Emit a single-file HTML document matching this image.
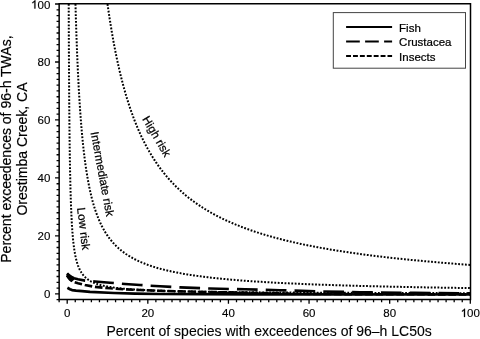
<!DOCTYPE html>
<html><head><meta charset="utf-8"><style>
html,body{margin:0;padding:0;background:#fff;width:480px;height:339px;overflow:hidden}
svg{display:block;will-change:transform}
.t{font-family:"Liberation Sans",sans-serif;fill:#000;stroke:#000;stroke-width:0.22px}
.t.rl{stroke-width:0.25px}
.t.yl{stroke-width:0.2px}
.t.tl{stroke-width:0.15px}
.t.xl{stroke-width:0.12px}
</style></head><body>
<svg width="480" height="339" viewBox="0 0 480 339">
<path d="M59.15,3.85 H470.5 V299.4 H59.15 Z" fill="none" stroke="#000" stroke-width="1.5" stroke-linejoin="miter"/>
<path d="M56.55,299.70H59.15M55.05,293.90H59.15M56.55,288.10H59.15M56.55,282.30H59.15M56.55,276.51H59.15M56.55,270.71H59.15M56.55,264.91H59.15M56.55,259.11H59.15M56.55,253.31H59.15M56.55,247.52H59.15M56.55,241.72H59.15M55.05,235.92H59.15M56.55,230.12H59.15M56.55,224.32H59.15M56.55,218.53H59.15M56.55,212.73H59.15M56.55,206.93H59.15M56.55,201.13H59.15M56.55,195.33H59.15M56.55,189.54H59.15M56.55,183.74H59.15M55.05,177.94H59.15M56.55,172.14H59.15M56.55,166.34H59.15M56.55,160.55H59.15M56.55,154.75H59.15M56.55,148.95H59.15M56.55,143.15H59.15M56.55,137.35H59.15M56.55,131.56H59.15M56.55,125.76H59.15M55.05,119.96H59.15M56.55,114.16H59.15M56.55,108.36H59.15M56.55,102.57H59.15M56.55,96.77H59.15M56.55,90.97H59.15M56.55,85.17H59.15M56.55,79.37H59.15M56.55,73.58H59.15M56.55,67.78H59.15M55.05,61.98H59.15M56.55,56.18H59.15M56.55,50.38H59.15M56.55,44.59H59.15M56.55,38.79H59.15M56.55,32.99H59.15M56.55,27.19H59.15M56.55,21.39H59.15M56.55,15.60H59.15M56.55,9.80H59.15M55.05,4.00H59.15M59.14,299.4V302.30M67.20,299.4V303.70M75.26,299.4V302.30M83.32,299.4V302.30M91.39,299.4V302.30M99.45,299.4V302.30M107.51,299.4V302.30M115.57,299.4V302.30M123.63,299.4V302.30M131.70,299.4V302.30M139.76,299.4V302.30M147.82,299.4V303.70M155.88,299.4V302.30M163.94,299.4V302.30M172.01,299.4V302.30M180.07,299.4V302.30M188.13,299.4V302.30M196.19,299.4V302.30M204.25,299.4V302.30M212.32,299.4V302.30M220.38,299.4V302.30M228.44,299.4V303.70M236.50,299.4V302.30M244.56,299.4V302.30M252.63,299.4V302.30M260.69,299.4V302.30M268.75,299.4V302.30M276.81,299.4V302.30M284.87,299.4V302.30M292.94,299.4V302.30M301.00,299.4V302.30M309.06,299.4V303.70M317.12,299.4V302.30M325.18,299.4V302.30M333.25,299.4V302.30M341.31,299.4V302.30M349.37,299.4V302.30M357.43,299.4V302.30M365.49,299.4V302.30M373.56,299.4V302.30M381.62,299.4V302.30M389.68,299.4V303.70M397.74,299.4V302.30M405.80,299.4V302.30M413.87,299.4V302.30M421.93,299.4V302.30M429.99,299.4V302.30M438.05,299.4V302.30M446.11,299.4V302.30M454.18,299.4V302.30M462.24,299.4V302.30M470.30,299.4V303.70" stroke="#000" stroke-width="1.3" fill="none"/>
<text x="43.90" y="298.40" class="t tl" font-size="11.5">0</text>
<text x="37.51" y="240.42" class="t tl" font-size="11.5">20</text>
<text x="37.51" y="182.44" class="t tl" font-size="11.5">40</text>
<text x="37.51" y="124.46" class="t tl" font-size="11.5">60</text>
<text x="37.51" y="66.48" class="t tl" font-size="11.5">80</text>
<path d="M763,0H583V1147C540,1106 483,1064 413,1023C343,982 280,951 225,930V1104C326,1151 414,1208 489,1275C564,1342 617,1407 648,1466H763Z" transform="translate(31.11,8.50) scale(0.00562,-0.00562)" fill="#000" stroke="#000" stroke-width="0.3" vector-effect="non-scaling-stroke"/><text x="37.51" y="8.50" class="t tl" font-size="11.5">00</text>
<text x="64.00" y="316.90" class="t tl" font-size="11.5">0</text>
<text x="141.42" y="316.90" class="t tl" font-size="11.5">20</text>
<text x="222.04" y="316.90" class="t tl" font-size="11.5">40</text>
<text x="302.66" y="316.90" class="t tl" font-size="11.5">60</text>
<text x="383.28" y="316.90" class="t tl" font-size="11.5">80</text>
<path d="M763,0H583V1147C540,1106 483,1064 413,1023C343,982 280,951 225,930V1104C326,1151 414,1208 489,1275C564,1342 617,1407 648,1466H763Z" transform="translate(460.71,316.90) scale(0.00562,-0.00562)" fill="#000" stroke="#000" stroke-width="0.3" vector-effect="non-scaling-stroke"/><text x="467.10" y="316.90" class="t tl" font-size="11.5">00</text>
<path d="M107.51,4.00 L107.82,6.22 L108.13,8.42 L108.45,10.60 L108.77,12.77 L109.09,14.91 L109.41,17.05 L109.73,19.16 L110.06,21.27 L110.39,23.35 L110.73,25.42 L111.06,27.47 L111.40,29.51 L111.74,31.53 L112.08,33.54 L112.43,35.53 L112.78,37.50 L113.13,39.46 L113.48,41.41 L113.84,43.34 L114.20,45.25 L114.56,47.16 L114.93,49.04 L115.29,50.91 L115.66,52.77 L116.04,54.62 L116.41,56.44 L116.79,58.26 L117.17,60.06 L117.56,61.85 L117.95,63.62 L118.34,65.38 L118.73,67.13 L119.13,68.87 L119.53,70.59 L119.93,72.29 L120.34,73.99 L120.75,75.67 L121.16,77.34 L121.58,78.99 L122.00,80.64 L122.42,82.27 L122.84,83.89 L123.27,85.49 L123.70,87.09 L124.14,88.67 L124.58,90.24 L125.02,91.79 L125.47,93.34 L125.91,94.87 L126.37,96.39 L126.82,97.90 L127.28,99.40 L127.75,100.89 L128.21,102.36 L128.68,103.83 L129.16,105.28 L129.63,106.72 L130.11,108.16 L130.60,109.58 L131.09,110.99 L131.58,112.38 L132.08,113.77 L132.58,115.15 L133.08,116.52 L133.59,117.87 L134.10,119.22 L134.61,120.55 L135.13,121.88 L135.66,123.19 L136.18,124.50 L136.72,125.79 L137.25,127.08 L137.79,128.36 L138.33,129.62 L138.88,130.88 L139.43,132.12 L139.99,133.36 L140.55,134.59 L141.12,135.81 L141.69,137.01 L142.26,138.21 L142.84,139.40 L143.42,140.59 L144.01,141.76 L144.60,142.92 L145.20,144.08 L145.80,145.22 L146.40,146.36 L147.01,147.49 L147.63,148.61 L148.25,149.72 L148.87,150.82 L149.50,151.91 L150.14,153.00 L150.78,154.08 L151.42,155.15 L152.07,156.21 L152.72,157.26 L153.38,158.30 L154.05,159.34 L154.71,160.37 L155.39,161.39 L156.07,162.40 L156.75,163.41 L157.44,164.41 L158.14,165.40 L158.84,166.38 L159.54,167.35 L160.26,168.32 L160.97,169.28 L161.70,170.23 L162.42,171.18 L163.16,172.12 L163.90,173.05 L164.64,173.97 L165.39,174.89 L166.15,175.80 L166.91,176.70 L167.68,177.60 L168.45,178.49 L169.23,179.37 L170.02,180.25 L170.81,181.12 L171.61,181.98 L172.42,182.83 L173.23,183.68 L174.04,184.53 L174.87,185.36 L175.70,186.19 L176.53,187.02 L177.37,187.83 L178.22,188.64 L179.08,189.45 L179.94,190.25 L180.81,191.04 L181.68,191.83 L182.57,192.61 L183.46,193.38 L184.35,194.15 L185.25,194.91 L186.16,195.67 L187.08,196.42 L188.00,197.17 L188.93,197.91 L189.87,198.64 L190.82,199.37 L191.77,200.09 L192.73,200.81 L193.70,201.52 L194.67,202.23 L195.65,202.93 L196.64,203.62 L197.64,204.31 L198.65,205.00 L199.66,205.68 L200.68,206.35 L201.71,207.02 L202.74,207.69 L203.79,208.34 L204.84,209.00 L205.90,209.65 L206.97,210.29 L208.05,210.93 L209.13,211.57 L210.23,212.20 L211.33,212.82 L212.44,213.44 L213.56,214.05 L214.68,214.67 L215.82,215.27 L216.97,215.87 L218.12,216.47 L219.28,217.06 L220.45,217.65 L221.64,218.23 L222.83,218.81 L224.02,219.38 L225.23,219.95 L226.45,220.52 L227.68,221.08 L228.91,221.64 L230.16,222.19 L231.41,222.74 L232.68,223.28 L233.96,223.82 L235.24,224.36 L236.53,224.89 L237.84,225.42 L239.15,225.94 L240.48,226.46 L241.81,226.98 L243.16,227.49 L244.52,228.00 L245.88,228.50 L247.26,229.00 L248.65,229.50 L250.04,229.99 L251.45,230.48 L252.87,230.96 L254.30,231.44 L255.74,231.92 L257.20,232.39 L258.66,232.86 L260.14,233.33 L261.62,233.79 L263.12,234.25 L264.63,234.71 L266.15,235.16 L267.68,235.61 L269.23,236.06 L270.79,236.50 L272.35,236.94 L273.93,237.37 L275.53,237.81 L277.13,238.24 L278.75,238.66 L280.38,239.08 L282.02,239.50 L283.68,239.92 L285.35,240.33 L287.03,240.74 L288.72,241.15 L290.43,241.55 L292.15,241.95 L293.88,242.35 L295.63,242.74 L297.39,243.13 L299.16,243.52 L300.95,243.91 L302.75,244.29 L304.56,244.67 L306.39,245.04 L308.23,245.42 L310.09,245.79 L311.96,246.16 L313.85,246.52 L315.75,246.88 L317.66,247.24 L319.59,247.60 L321.54,247.95 L323.50,248.31 L325.47,248.65 L327.46,249.00 L329.47,249.34 L331.49,249.68 L333.53,250.02 L335.58,250.36 L337.65,250.69 L339.73,251.02 L341.83,251.35 L343.94,251.67 L346.08,252.00 L348.23,252.32 L350.39,252.64 L352.57,252.95 L354.77,253.26 L356.99,253.57 L359.22,253.88 L361.47,254.19 L363.74,254.49 L366.02,254.79 L368.32,255.09 L370.64,255.39 L372.98,255.68 L375.34,255.98 L377.71,256.27 L380.11,256.55 L382.52,256.84 L384.95,257.12 L387.39,257.40 L389.86,257.68 L392.35,257.96 L394.85,258.23 L397.38,258.51 L399.92,258.78 L402.48,259.05 L405.07,259.31 L407.67,259.58 L410.29,259.84 L412.94,260.10 L415.60,260.36 L418.29,260.62 L420.99,260.87 L423.72,261.12 L426.46,261.37 L429.23,261.62 L432.02,261.87 L434.83,262.11 L437.66,262.36 L440.52,262.60 L443.39,262.84 L446.29,263.07 L449.21,263.31 L452.16,263.54 L455.12,263.78 L458.11,264.01 L461.12,264.23 L464.16,264.46 L467.22,264.69 L470.30,264.91" stroke="#000" stroke-width="2.0" fill="none" stroke-dasharray="1.8 1.6"/>
<path d="M75.46,4.00 L75.57,7.76 L75.68,11.46 L75.78,15.12 L75.89,18.73 L76.01,22.30 L76.12,25.82 L76.23,29.29 L76.35,32.72 L76.47,36.10 L76.58,39.44 L76.71,42.74 L76.83,45.99 L76.95,49.20 L77.08,52.37 L77.20,55.50 L77.33,58.59 L77.46,61.64 L77.59,64.65 L77.73,67.62 L77.86,70.55 L78.00,73.44 L78.14,76.30 L78.28,79.12 L78.42,81.90 L78.57,84.65 L78.72,87.36 L78.86,90.04 L79.01,92.68 L79.17,95.28 L79.32,97.86 L79.48,100.40 L79.64,102.90 L79.80,105.38 L79.96,107.82 L80.12,110.23 L80.29,112.61 L80.46,114.96 L80.63,117.28 L80.81,119.57 L80.98,121.82 L81.16,124.05 L81.34,126.25 L81.52,128.43 L81.71,130.57 L81.90,132.69 L82.09,134.77 L82.28,136.84 L82.48,138.87 L82.67,140.88 L82.87,142.86 L83.08,144.82 L83.28,146.75 L83.49,148.66 L83.70,150.54 L83.92,152.40 L84.13,154.23 L84.35,156.04 L84.58,157.82 L84.80,159.59 L85.03,161.33 L85.26,163.04 L85.50,164.74 L85.73,166.41 L85.97,168.07 L86.22,169.70 L86.46,171.30 L86.71,172.89 L86.97,174.46 L87.22,176.01 L87.48,177.54 L87.75,179.04 L88.02,180.53 L88.29,182.00 L88.56,183.45 L88.84,184.88 L89.12,186.29 L89.40,187.69 L89.69,189.06 L89.99,190.42 L90.28,191.76 L90.58,193.08 L90.89,194.39 L91.20,195.68 L91.51,196.95 L91.82,198.21 L92.14,199.45 L92.47,200.67 L92.80,201.88 L93.13,203.07 L93.47,204.25 L93.81,205.41 L94.16,206.56 L94.51,207.69 L94.87,208.80 L95.23,209.91 L95.59,211.00 L95.96,212.07 L96.34,213.13 L96.72,214.18 L97.10,215.21 L97.49,216.23 L97.89,217.23 L98.29,218.23 L98.69,219.21 L99.10,220.18 L99.52,221.13 L99.94,222.07 L100.37,223.00 L100.80,223.92 L101.24,224.83 L101.68,225.72 L102.13,226.61 L102.59,227.48 L103.05,228.34 L103.52,229.19 L103.99,230.03 L104.47,230.86 L104.96,231.67 L105.45,232.48 L105.95,233.27 L106.46,234.06 L106.97,234.83 L107.49,235.60 L108.01,236.36 L108.55,237.10 L109.09,237.84 L109.64,238.56 L110.19,239.28 L110.75,239.99 L111.32,240.69 L111.90,241.38 L112.48,242.06 L113.07,242.73 L113.67,243.39 L114.28,244.04 L114.89,244.69 L115.52,245.33 L116.15,245.96 L116.79,246.58 L117.44,247.19 L118.09,247.80 L118.76,248.39 L119.43,248.98 L120.12,249.57 L120.81,250.14 L121.51,250.71 L122.22,251.27 L122.94,251.82 L123.67,252.36 L124.41,252.90 L125.16,253.43 L125.91,253.96 L126.68,254.47 L127.46,254.99 L128.25,255.49 L129.05,255.99 L129.86,256.48 L130.68,256.96 L131.51,257.44 L132.35,257.91 L133.20,258.38 L134.06,258.84 L134.94,259.29 L135.82,259.74 L136.72,260.19 L137.63,260.62 L138.55,261.05 L139.49,261.48 L140.43,261.90 L141.39,262.31 L142.36,262.72 L143.35,263.13 L144.35,263.53 L145.36,263.92 L146.38,264.31 L147.42,264.69 L148.47,265.07 L149.53,265.44 L150.61,265.81 L151.70,266.18 L152.81,266.53 L153.93,266.89 L155.06,267.24 L156.21,267.58 L157.38,267.93 L158.56,268.26 L159.76,268.59 L160.97,268.92 L162.20,269.25 L163.44,269.56 L164.70,269.88 L165.98,270.19 L167.27,270.50 L168.58,270.80 L169.91,271.10 L171.26,271.40 L172.62,271.69 L174.00,271.98 L175.40,272.26 L176.82,272.54 L178.25,272.82 L179.71,273.09 L181.18,273.36 L182.68,273.63 L184.19,273.89 L185.72,274.15 L187.28,274.40 L188.85,274.66 L190.44,274.91 L192.06,275.15 L193.69,275.39 L195.35,275.63 L197.03,275.87 L198.73,276.10 L200.46,276.33 L202.20,276.56 L203.97,276.79 L205.77,277.01 L207.58,277.23 L209.42,277.44 L211.29,277.66 L213.17,277.87 L215.09,278.07 L217.03,278.28 L218.99,278.48 L220.98,278.68 L223.00,278.88 L225.04,279.07 L227.11,279.27 L229.20,279.46 L231.33,279.64 L233.48,279.83 L235.66,280.01 L237.87,280.19 L240.10,280.37 L242.37,280.54 L244.67,280.72 L246.99,280.89 L249.35,281.05 L251.74,281.22 L254.16,281.39 L256.61,281.55 L259.09,281.71 L261.61,281.87 L264.16,282.02 L266.74,282.18 L269.36,282.33 L272.01,282.48 L274.69,282.63 L277.42,282.77 L280.17,282.92 L282.96,283.06 L285.79,283.20 L288.66,283.34 L291.56,283.47 L294.51,283.61 L297.49,283.74 L300.51,283.87 L303.57,284.00 L306.67,284.13 L309.81,284.26 L312.99,284.38 L316.21,284.51 L319.48,284.63 L322.79,284.75 L326.14,284.87 L329.54,284.98 L332.98,285.10 L336.46,285.21 L339.99,285.33 L343.57,285.44 L347.20,285.55 L350.87,285.66 L354.59,285.76 L358.36,285.87 L362.18,285.97 L366.05,286.07 L369.97,286.18 L373.94,286.28 L377.96,286.37 L382.04,286.47 L386.17,286.57 L390.35,286.66 L394.59,286.76 L398.89,286.85 L403.24,286.94 L407.64,287.03 L412.11,287.12 L416.63,287.21 L421.22,287.29 L425.86,287.38 L430.57,287.46 L435.33,287.55 L440.16,287.63 L445.06,287.71 L450.01,287.79 L455.04,287.87 L460.12,287.95 L465.28,288.03 L470.50,288.10" stroke="#000" stroke-width="2.0" fill="none" stroke-dasharray="1.8 1.6"/>
<path d="M68.71,4.00 L68.73,9.73 L68.75,15.35 L68.77,20.86 L68.79,26.26 L68.81,31.55 L68.84,36.74 L68.86,41.82 L68.88,46.81 L68.91,51.69 L68.93,56.48 L68.96,61.18 L68.98,65.78 L69.01,70.29 L69.03,74.71 L69.06,79.05 L69.09,83.29 L69.12,87.46 L69.14,91.54 L69.17,95.54 L69.20,99.46 L69.23,103.31 L69.26,107.08 L69.30,110.77 L69.33,114.39 L69.36,117.94 L69.39,121.42 L69.43,124.83 L69.46,128.17 L69.50,131.45 L69.53,134.66 L69.57,137.81 L69.61,140.90 L69.65,143.92 L69.69,146.89 L69.73,149.80 L69.77,152.65 L69.81,155.44 L69.85,158.18 L69.90,160.86 L69.94,163.49 L69.99,166.07 L70.03,168.60 L70.08,171.08 L70.13,173.50 L70.18,175.88 L70.23,178.22 L70.28,180.51 L70.33,182.75 L70.38,184.95 L70.44,187.10 L70.49,189.21 L70.55,191.28 L70.60,193.31 L70.66,195.30 L70.72,197.25 L70.78,199.16 L70.85,201.03 L70.91,202.87 L70.97,204.67 L71.04,206.43 L71.11,208.16 L71.18,209.86 L71.25,211.52 L71.32,213.15 L71.39,214.75 L71.47,216.31 L71.54,217.85 L71.62,219.35 L71.70,220.82 L71.78,222.27 L71.86,223.69 L71.94,225.07 L72.03,226.43 L72.12,227.77 L72.21,229.08 L72.30,230.36 L72.39,231.61 L72.49,232.85 L72.58,234.05 L72.68,235.24 L72.78,236.40 L72.88,237.53 L72.99,238.65 L73.09,239.74 L73.20,240.81 L73.31,241.86 L73.43,242.89 L73.54,243.90 L73.66,244.89 L73.78,245.86 L73.90,246.81 L74.03,247.74 L74.16,248.65 L74.29,249.55 L74.42,250.42 L74.56,251.28 L74.69,252.13 L74.83,252.95 L74.98,253.76 L75.13,254.55 L75.27,255.33 L75.43,256.10 L75.58,256.84 L75.74,257.58 L75.90,258.29 L76.07,259.00 L76.24,259.69 L76.41,260.36 L76.59,261.03 L76.77,261.68 L76.95,262.31 L77.14,262.94 L77.33,263.55 L77.52,264.15 L77.72,264.74 L77.92,265.32 L78.13,265.88 L78.34,266.44 L78.55,266.98 L78.77,267.51 L78.99,268.03 L79.22,268.54 L79.45,269.05 L79.69,269.54 L79.93,270.02 L80.18,270.49 L80.43,270.95 L80.69,271.41 L80.95,271.85 L81.22,272.29 L81.49,272.72 L81.77,273.13 L82.05,273.55 L82.34,273.95 L82.64,274.34 L82.94,274.73 L83.25,275.11 L83.56,275.48 L83.88,275.84 L84.21,276.20 L84.54,276.55 L84.88,276.89 L85.23,277.23 L85.58,277.56 L85.94,277.88 L86.31,278.20 L86.68,278.51 L87.07,278.81 L87.46,279.11 L87.86,279.40 L88.26,279.69 L88.68,279.97 L89.10,280.25 L89.53,280.52 L89.97,280.78 L90.42,281.04 L90.88,281.30 L91.35,281.55 L91.82,281.79 L92.31,282.03 L92.81,282.26 L93.31,282.49 L93.83,282.72 L94.36,282.94 L94.89,283.16 L95.44,283.37 L96.00,283.58 L96.57,283.78 L97.16,283.98 L97.75,284.18 L98.36,284.37 L98.98,284.56 L99.61,284.74 L100.25,284.92 L100.91,285.10 L101.58,285.28 L102.26,285.45 L102.96,285.61 L103.67,285.78 L104.39,285.94 L105.13,286.10 L105.89,286.25 L106.66,286.40 L107.45,286.55 L108.25,286.69 L109.06,286.84 L109.90,286.98 L110.75,287.11 L111.62,287.25 L112.50,287.38 L113.41,287.51 L114.33,287.63 L115.27,287.76 L116.23,287.88 L117.21,288.00 L118.21,288.12 L119.23,288.23 L120.27,288.34 L121.33,288.45 L122.41,288.56 L123.51,288.67 L124.64,288.77 L125.79,288.87 L126.96,288.97 L128.15,289.07 L129.37,289.16 L130.62,289.26 L131.89,289.35 L133.18,289.44 L134.50,289.53 L135.85,289.61 L137.23,289.70 L138.63,289.78 L140.06,289.86 L141.52,289.94 L143.01,290.02 L144.53,290.10 L146.08,290.17 L147.66,290.25 L149.27,290.32 L150.92,290.39 L152.59,290.46 L154.31,290.53 L156.05,290.59 L157.84,290.66 L159.65,290.72 L161.51,290.79 L163.40,290.85 L165.33,290.91 L167.30,290.97 L169.31,291.02 L171.36,291.08 L173.45,291.14 L175.58,291.19 L177.76,291.25 L179.98,291.30 L182.25,291.35 L184.56,291.40 L186.91,291.45 L189.32,291.50 L191.77,291.55 L194.27,291.59 L196.83,291.64 L199.43,291.68 L202.09,291.73 L204.80,291.77 L207.57,291.81 L210.39,291.85 L213.27,291.89 L216.20,291.93 L219.20,291.97 L222.26,292.01 L225.37,292.05 L228.55,292.08 L231.80,292.12 L235.11,292.15 L238.49,292.19 L241.93,292.22 L245.45,292.26 L249.03,292.29 L252.69,292.32 L256.42,292.35 L260.23,292.38 L264.11,292.41 L268.07,292.44 L272.11,292.47 L276.24,292.50 L280.45,292.53 L284.74,292.55 L289.11,292.58 L293.58,292.61 L298.14,292.63 L302.79,292.66 L307.53,292.68 L312.37,292.71 L317.30,292.73 L322.34,292.75 L327.47,292.78 L332.71,292.80 L338.06,292.82 L343.51,292.84 L349.08,292.86 L354.75,292.88 L360.54,292.90 L366.45,292.92 L372.48,292.94 L378.63,292.96 L384.90,292.98 L391.30,293.00 L397.82,293.02 L404.48,293.03 L411.28,293.05 L418.21,293.07 L425.28,293.08 L432.49,293.10 L439.85,293.11 L447.36,293.13 L455.02,293.15 L462.83,293.16 L470.80,293.18" stroke="#000" stroke-width="2.0" fill="none" stroke-dasharray="1.8 1.6"/>
<path d="M67.40,287.80 L70.00,289.20 L72.00,290.10 L76.00,290.70 L82.00,291.20 L90.00,291.90 L114.00,293.00 L135.00,293.60 L160.00,294.00 L200.00,294.20 L250.00,294.40 L470.00,294.50" stroke="#000" stroke-width="2.7" fill="none" stroke-linejoin="round"/>
<path d="M67.20,273.30 L69.00,275.30 L71.00,276.80 L74.00,278.20 L78.00,279.30 L85.00,280.60 L95.00,281.50 L110.00,282.70 L125.00,284.00 L140.00,285.00 L160.00,286.30 L180.00,287.40 L210.00,288.50 L245.00,289.30 L280.00,290.20 L318.00,291.40 L360.00,292.20 L415.00,292.90 L470.00,293.40" stroke="#000" stroke-width="2.6" fill="none" stroke-dasharray="20.7 8.1" stroke-dashoffset="0.80"/>
<path d="M67.00,275.60 L68.50,277.80 L70.00,279.50 L71.50,280.70 L74.00,282.00 L78.00,283.30 L85.00,285.00 L95.00,286.90 L110.00,288.30 L125.00,289.30 L140.00,290.00 L160.00,290.80 L180.00,291.40 L220.00,292.20 L260.00,293.00 L300.00,293.80 L350.00,294.20 L470.00,294.40" stroke="#000" stroke-width="2.6" fill="none" stroke-dasharray="7.6 2.8"/>
<path d="M66.5,274.2 L67.6,272.7 L69.5,274.1 L72.5,276.4 L74.2,277.4 L74.2,279.8 L72.8,280.9 L71.6,281.9 L70.2,280.9 L68.2,278.8 L66.4,276.6 Z" fill="#000"/>
<path d="M215.0,291.50 L220.0,291.60 L225.0,291.70 L230.0,291.80 L235.0,291.90 L240.0,292.00 L245.0,292.10 L250.0,292.20 L255.0,292.30 L260.0,292.40 L265.0,292.50 L270.0,292.60 L275.0,292.70 L280.0,292.80 L285.0,292.90 L290.0,293.00 L295.0,293.10 L300.0,293.20 L305.0,293.24 L310.0,293.28 L315.0,293.32 L320.0,293.36 L325.0,293.40 L330.0,293.44 L335.0,293.48 L340.0,293.52 L345.0,293.56 L350.0,293.60 L355.0,293.61 L360.0,293.62 L365.0,293.62 L370.0,293.63 L375.0,293.64 L380.0,293.65 L385.0,293.66 L390.0,293.67 L395.0,293.67 L400.0,293.68 L405.0,293.69 L410.0,293.70 L415.0,293.71 L420.0,293.72 L425.0,293.72 L430.0,293.73 L435.0,293.74 L440.0,293.75 L445.0,293.76 L450.0,293.77 L455.0,293.77 L460.0,293.78 L465.0,293.79 L470.0,293.80 L470.0,294.50 L465.0,294.50 L460.0,294.50 L455.0,294.49 L450.0,294.49 L445.0,294.49 L440.0,294.49 L435.0,294.48 L430.0,294.48 L425.0,294.48 L420.0,294.48 L415.0,294.48 L410.0,294.47 L405.0,294.47 L400.0,294.47 L395.0,294.47 L390.0,294.46 L385.0,294.46 L380.0,294.46 L375.0,294.46 L370.0,294.45 L365.0,294.45 L360.0,294.45 L355.0,294.45 L350.0,294.45 L345.0,294.44 L340.0,294.44 L335.0,294.44 L330.0,294.44 L325.0,294.43 L320.0,294.43 L315.0,294.43 L310.0,294.43 L305.0,294.42 L300.0,294.42 L295.0,294.42 L290.0,294.42 L285.0,294.42 L280.0,294.41 L275.0,294.41 L270.0,294.41 L265.0,294.41 L260.0,294.40 L255.0,294.40 L250.0,294.40 L245.0,294.38 L240.0,294.36 L235.0,294.34 L230.0,294.32 L225.0,294.30 L220.0,294.28 L215.0,294.26 Z" fill="#000"/>
<text class="t rl" font-size="11.5" transform="translate(141.9,119.1) rotate(59.5)">High risk</text>
<text class="t rl" font-size="11.6" transform="translate(90.6,132.6) rotate(79.4)">Intermediate risk</text>
<text class="t rl" font-size="11.6" transform="translate(77.1,208.1) rotate(83)">Low risk</text>
<rect x="333.3" y="12.6" width="132.2" height="55.6" fill="#fff" stroke="#444" stroke-width="1"/>
<path d="M346.1,27.0H392.1" stroke="#000" stroke-width="2"/>
<path d="M346.1,41.4H392.1" stroke="#000" stroke-width="2" stroke-dasharray="13.7 5.3"/>
<path d="M346.1,56.1H392.1" stroke="#000" stroke-width="2" stroke-dasharray="4.9 2.0"/>
<text class="t" font-size="11.5" x="399.1" y="31.7">Fish</text>
<text class="t" font-size="11.5" x="399.1" y="46.3">Crustacea</text>
<text class="t" font-size="11.5" x="399.1" y="60.6">Insects</text>
<text class="t xl" font-size="14" x="269.05" y="335.5" text-anchor="middle">Percent of species with exceedences of 96–h LC50s</text>
<text class="t yl" font-size="14.6" text-anchor="middle" transform="translate(10.9,149.1) rotate(-90) scale(0.96,1)">Percent exceedences of 96-h TWAs,</text>
<text class="t yl" font-size="14.6" text-anchor="middle" transform="translate(27.4,149.0) rotate(-90) scale(0.96,1)">Orestimba Creek, CA</text>
</svg>
</body></html>
